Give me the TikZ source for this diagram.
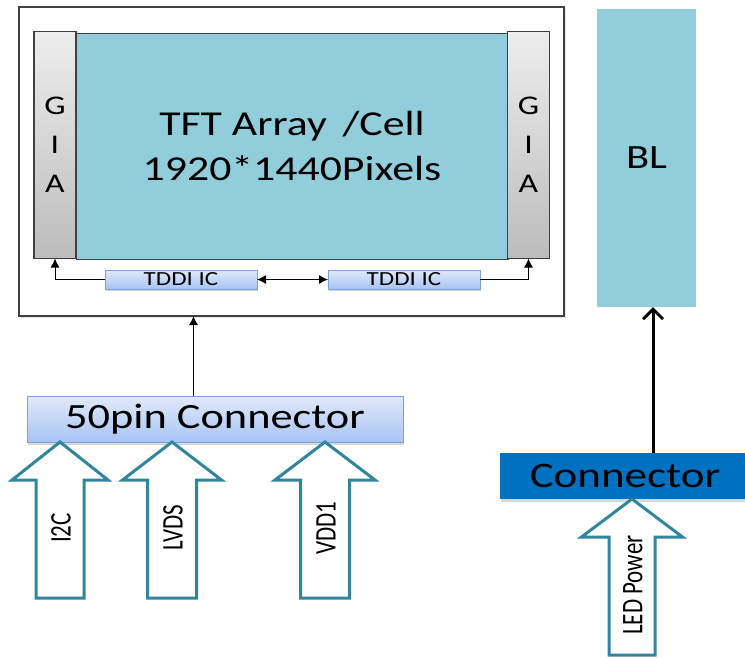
\documentclass[tikz,border=0pt]{standalone}
\usepackage{fontspec}
\setmainfont{Carlito}[FakeStretch=1.25]
\newfontfamily\rotfont{Carlito}
\usetikzlibrary{arrows.meta,shadows}
\definecolor{aqua}{HTML}{92CDDC}
\definecolor{teal}{HTML}{31859C}
\definecolor{connblue}{HTML}{0070C0}
\definecolor{gbtop}{HTML}{E0E9FA}
\definecolor{gbbot}{HTML}{A7C4F4}
\definecolor{gbdraw}{HTML}{7FA0D6}
\definecolor{grtop}{HTML}{EDEDED}
\definecolor{grbot}{HTML}{BCBCBC}
\definecolor{darkline}{HTML}{404040}
\newcommand{\blkarr}[5]{%
  \draw[blockarrow] (#1,#2) -- ++(#3,38) -- ++(#4-#3,0) -- ++(0,#5-#2-38)
    -- ++(-2*#4,0) -- ++(0,-#5+#2+38) -- ++(#4-#3,0) -- cycle;}
\newcommand{\tallrot}[1]{\scalebox{1}[1.3]{#1}}
\begin{document}
\begin{tikzpicture}[x=1pt,y=-1pt,
  every node/.style={inner sep=0pt,outer sep=0pt},
  gia/.style={draw=darkline,line width=1.2pt,top color=grtop,bottom color=grbot,
    minimum width=42pt,minimum height=227pt,align=center,
    font=\fontsize{27}{39}\selectfont},
  tddibox/.style={draw=gbdraw,line width=1pt,top color=gbtop,bottom color=gbbot,
    minimum width=152pt,minimum height=19pt,font=\fontsize{20}{20}\selectfont,
    drop shadow={opacity=0.3,shadow xshift=1pt,shadow yshift=-2pt}},
  blockarrow/.style={draw=teal,line width=3pt,fill=white,line join=miter},
  arrlabel/.style={rotate=90,font=\rotfont\fontsize{23}{23}\selectfont},
  thinarrow/.style={draw=black,line width=1pt,-{Latex[length=9pt,width=9pt]}}]
\useasboundingbox (0,0) rectangle (745,657);
% outer frame
\node[draw=darkline,line width=1.5pt,fill=white,minimum width=545pt,minimum height=309pt,
  drop shadow={opacity=0.2,shadow xshift=2pt,shadow yshift=-2pt}] (frame) at (291.5,161.5) {};
% TFT array
\node[draw=darkline,line width=1pt,fill=aqua,minimum width=432pt,minimum height=226pt,
  align=center,font=\fontsize{35}{45}\selectfont] (tft) at (292,146)
  {TFT Array \,/Cell\\1920*1440Pixels};
\node[gia] (giaL) at (55,145) {G\\I\\A};
\node[gia] (giaR) at (528.5,145) {G\\I\\A};
% TDDI ICs
\node[tddibox] (tddiA) at (181,279.5) {TDDI IC};
\node[tddibox] (tddiB) at (404,279.5) {TDDI IC};
\draw[thinarrow] (tddiA.west) -| (giaL.south);
\draw[thinarrow] (tddiB.east) -| (giaR.south);
\draw[thinarrow,{Latex[length=9pt,width=9pt]}-{Latex[length=9pt,width=9pt]}] (tddiA.east) -- (tddiB.west);
% BL
\node[fill=aqua,minimum width=99pt,minimum height=298pt,font=\fontsize{34}{34}\selectfont] (bl) at (646.5,158) {BL};
% 50pin connector
\node[draw=gbdraw,line width=1pt,top color=gbtop,bottom color=gbbot,minimum width=376pt,
  minimum height=46pt,font=\fontsize{35.5}{36}\selectfont,
  drop shadow={opacity=0.3,shadow xshift=1pt,shadow yshift=-3pt}] (conn50) at (215,419) {50pin Connector};
\coordinate (c50) at (193.5,396);
\draw[thinarrow] (c50) -- (c50 |- frame.south);
% BL connector
\node[fill=connblue,minimum width=245pt,minimum height=46pt,font=\fontsize{36}{36}\selectfont,
  drop shadow={opacity=0.3,shadow xshift=1pt,shadow yshift=-3pt}] (connbl) at (622.5,476) {\hspace*{5pt}Connector};
\coordinate (cbl) at (653,453);
\draw[line width=3pt,-{Straight Barb[length=10pt,width=20pt]}] (cbl) -- (cbl |- bl.south);
% block arrows
\blkarr{60}{442}{48}{24}{598}
\blkarr{172}{442}{49.5}{24.5}{598}
\blkarr{325}{442}{50}{24.5}{598}
\blkarr{632}{499}{50.5}{23}{655}
\node[arrlabel] (lI2C) at (61,528) {\tallrot{I2C}};
\node[arrlabel] (lLVDS) at (173,528) {\tallrot{LVDS}};
\node[arrlabel] (lVDD) at (326,528) {\tallrot{VDD1}};
\node[arrlabel] (lLED) at (633,585) {\tallrot{LED Power}};
\end{tikzpicture}
\end{document}
